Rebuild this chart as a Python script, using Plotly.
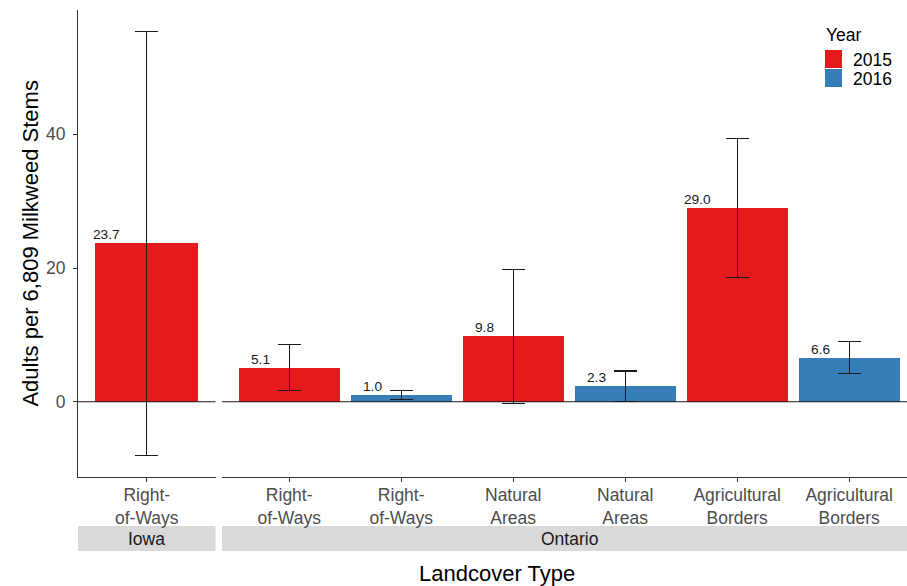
import plotly.graph_objects as go

# ---------------- data ----------------
region = ["Iowa", "Ontario", "Ontario", "Ontario", "Ontario", "Ontario", "Ontario"]
landcover = ["Right-of-Ways", "Right-of-Ways", "Right-of-Ways", "Natural Areas",
             "Natural Areas", "Agricultural Borders", "Agricultural Borders"]
year = ["2015", "2015", "2016", "2015", "2016", "2015", "2016"]
adults = [23.7, 5.1, 1.0, 9.8, 2.3, 29.0, 6.6]
error = [31.7, 3.45, 0.7, 10.0, 2.3, 10.4, 2.4]
tick_labels = {"Right-of-Ways": "Right-<br>of-Ways",
               "Natural Areas": "Natural<br>Areas",
               "Agricultural Borders": "Agricultural<br>Borders"}
y_ticks = [0, 20, 40]
years = ["2015", "2016"]
colors = {"2015": "#E41A1C", "2016": "#377EB8"}

# ---------------- layout geometry ----------------
W, H = 907, 586
ML, MR, MT, MB = 78, 0, 10, 109
PW, PH = W - ML - MR, H - MT - MB
def px_x(x):  # pixel -> paper x
    return (x - ML) / PW
def px_y(y):  # pixel -> paper y
    return (H - MB - y) / PH

FONT = "Liberation Sans, Arial, sans-serif"
LBL_SIZE = 13.7
TXT = 17.5

panels = ["Iowa", "Ontario"]
axis_of = {"Iowa": "x", "Ontario": "x2"}
keys = [f"{l} {y}" for l, y in zip(landcover, year)]

fig = go.Figure()

for p in panels:
    for yr in years:
        idx = [i for i in range(len(adults)) if region[i] == p and year[i] == yr]
        if not idx:
            continue
        fig.add_trace(go.Bar(
            x=[keys[i] for i in idx], y=[adults[i] for i in idx],
            width=0.9, marker=dict(color=colors[yr], line=dict(width=0)),
            error_y=dict(type="data", array=[error[i] for i in idx], visible=True,
                         color="#1a1a1a", thickness=1.2, width=11.5),
            xaxis=axis_of[p], yaxis="y", showlegend=False, name=yr))

annotations = []
shapes = []

# value labels (ggplot hjust = 2 style)
for i, v in enumerate(adults):
    txt = f"{v:.1f}"
    w = LBL_SIZE * (0.556 * sum(c.isdigit() for c in txt) + 0.278 * txt.count("."))
    annotations.append(dict(x=keys[i], y=v, xref=axis_of[region[i]], yref="y",
                            text=txt, showarrow=False, xanchor="center",
                            yanchor="bottom", xshift=-1.5 * w, yshift=-1,
                            font=dict(family=FONT, size=LBL_SIZE, color="#1a1a1a")))

# zero lines per panel
for p in panels:
    ax = axis_of[p]
    shapes.append(dict(type="line", xref=f"{ax} domain", yref="y", x0=0, x1=1,
                       y0=0, y1=0, line=dict(color="#1a1a1a", width=1.1)))

# strips
strip_top, strip_bot = 526, 551
for p in panels:
    ax = axis_of[p]
    shapes.append(dict(type="rect", xref=f"{ax} domain", yref="paper", x0=0, x1=1,
                       y0=px_y(strip_bot), y1=px_y(strip_top),
                       fillcolor="#D9D9D9", line=dict(width=0), layer="below"))
    n = sum(r == p for r in region)
    annotations.append(dict(x=(n - 1) / 2, xref=ax, y=px_y((strip_top + strip_bot) / 2),
                            yref="paper", text=p, showarrow=False,
                            xanchor="center", yanchor="middle",
                            font=dict(family=FONT, size=TXT, color="#1a1a1a")))

# axis titles
annotations.append(dict(x=px_x(497.4), y=px_y(573), xref="paper", yref="paper",
                        text="Landcover Type", showarrow=False,
                        xanchor="center", yanchor="middle",
                        font=dict(family=FONT, size=22, color="#000000")))
annotations.append(dict(x=px_x(31), y=px_y(243.6), xref="paper", yref="paper",
                        text="Adults per 6,809 Milkweed Stems", textangle=-90,
                        showarrow=False, xanchor="center", yanchor="middle",
                        font=dict(family=FONT, size=22, color="#000000")))

# legend (drawn ggplot-style)
annotations.append(dict(x=px_x(824), y=px_y(35), xref="paper", yref="paper",
                        text="Year", showarrow=False, xanchor="left", yanchor="middle",
                        font=dict(family=FONT, size=TXT, color="#000000")))
key_top = 50
for k, yr in enumerate(years):
    t = key_top + k * 19
    shapes.append(dict(type="rect", xref="paper", yref="paper",
                       x0=px_x(825), x1=px_x(842), y0=px_y(t + 18), y1=px_y(t),
                       fillcolor=colors[yr], line=dict(width=0)))
    annotations.append(dict(x=px_x(851), y=px_y(t + 9.5), xref="paper", yref="paper",
                            text=yr, showarrow=False, xanchor="left", yanchor="middle",
                            font=dict(family=FONT, size=TXT, color="#000000")))

def xaxis_cfg(p, domain, rng):
    ks = [keys[i] for i in range(len(keys)) if region[i] == p]
    tl = [tick_labels[landcover[i]] for i in range(len(keys)) if region[i] == p]
    return dict(domain=domain, range=rng, type="category", categoryorder="array",
                categoryarray=ks, tickvals=ks, ticktext=tl, anchor="y",
                showline=True, linecolor="#333333", linewidth=1.1,
                ticks="outside", ticklen=4, tickcolor="#333333", showgrid=False,
                zeroline=False, fixedrange=True, automargin=False,
                ticklabelstandoff=-2,
                tickfont=dict(family=FONT, size=TXT, color="#4D4D4D"))

iowa_end = px_x(215.5)
ont_start = px_x(222)
ont_px = 112.0
fig.update_layout(
    width=W, height=H,
    margin=dict(l=ML, r=MR, t=MT, b=MB, pad=0),
    paper_bgcolor="white", plot_bgcolor="white",
    barmode="overlay", bargap=0, showlegend=False,
    xaxis=xaxis_cfg("Iowa", [0, iowa_end], [-0.6, 0.6]),
    xaxis2=xaxis_cfg("Ontario", [ont_start, 1],
                     [-0.6, -0.6 + (W - 222) / ont_px]),
    yaxis=dict(domain=[0, 1], range=[-11.25, 58.6], anchor="x",
               tickvals=y_ticks, ticktext=[str(t) for t in y_ticks],
               showline=True, linecolor="#333333", linewidth=1.1,
               ticks="outside", ticklen=4, tickcolor="#333333",
               showgrid=False, zeroline=False, ticklabelstandoff=4, automargin=False,
               tickfont=dict(family=FONT, size=TXT, color="#4D4D4D")),
    annotations=annotations, shapes=shapes,
)

fig.write_html("out.html", config={"displayModeBar": False},
               post_script="document.body.style.margin='0';")
